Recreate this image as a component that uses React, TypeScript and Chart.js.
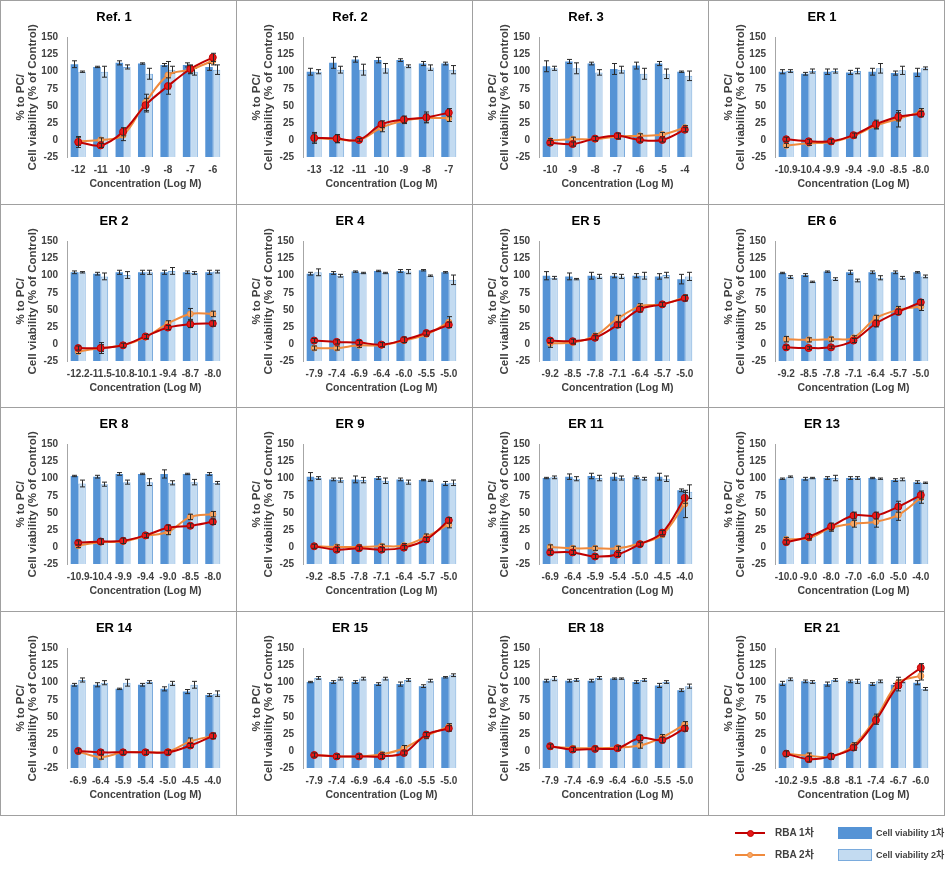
import React, { useEffect, useRef } from 'react';
import { Chart, registerables } from 'chart.js';

Chart.register(...registerables);

const FONT = "'Liberation Sans', Arial, 'Noto Sans CJK KR', sans-serif";

const panelTitles = ['Ref. 1', 'Ref. 2', 'Ref. 3', 'ER 1', 'ER 2', 'ER 4', 'ER 5', 'ER 6', 'ER 8', 'ER 9', 'ER 11', 'ER 13', 'ER 14', 'ER 15', 'ER 18', 'ER 21'];

const concentrationLabels = [
  ['-12', '-11', '-10', '-9', '-8', '-7', '-6'],
  ['-13', '-12', '-11', '-10', '-9', '-8', '-7'],
  ['-10', '-9', '-8', '-7', '-6', '-5', '-4'],
  ['-10.9', '-10.4', '-9.9', '-9.4', '-9.0', '-8.5', '-8.0'],
  ['-12.2', '-11.5', '-10.8', '-10.1', '-9.4', '-8.7', '-8.0'],
  ['-7.9', '-7.4', '-6.9', '-6.4', '-6.0', '-5.5', '-5.0'],
  ['-9.2', '-8.5', '-7.8', '-7.1', '-6.4', '-5.7', '-5.0'],
  ['-9.2', '-8.5', '-7.8', '-7.1', '-6.4', '-5.7', '-5.0'],
  ['-10.9', '-10.4', '-9.9', '-9.4', '-9.0', '-8.5', '-8.0'],
  ['-9.2', '-8.5', '-7.8', '-7.1', '-6.4', '-5.7', '-5.0'],
  ['-6.9', '-6.4', '-5.9', '-5.4', '-5.0', '-4.5', '-4.0'],
  ['-10.0', '-9.0', '-8.0', '-7.0', '-6.0', '-5.0', '-4.0'],
  ['-6.9', '-6.4', '-5.9', '-5.4', '-5.0', '-4.5', '-4.0'],
  ['-7.9', '-7.4', '-6.9', '-6.4', '-6.0', '-5.5', '-5.0'],
  ['-7.9', '-7.4', '-6.9', '-6.4', '-6.0', '-5.5', '-5.0'],
  ['-10.2', '-9.5', '-8.8', '-8.1', '-7.4', '-6.7', '-6.0'],
];

const yTickValues = [-25, 0, 25, 50, 75, 100, 125, 150];

// Cell viability 1차 (dark bars)
const viability1 = [
  [111, 107, 113, 112, 110, 110, 107],
  [100, 113, 118, 117, 117, 112, 112],
  [108, 115, 112, 104, 109, 112, 100],
  [100, 97, 100, 99, 100, 98, 99],
  [105, 103, 105, 105, 105, 105, 105],
  [103, 104, 106, 107, 107, 108, 105],
  [100, 99, 100, 100, 100, 99, 95],
  [104, 101, 106, 105, 105, 105, 105],
  [104, 103, 107, 107, 107, 107, 107],
  [103, 99, 99, 101, 99, 98, 93],
  [101, 103, 104, 103, 102, 103, 83],
  [100, 100, 101, 101, 101, 98, 95],
  [97, 97, 91, 97, 91, 87, 82],
  [101, 101, 101, 98, 98, 95, 108],
  [103, 103, 103, 106, 101, 96, 89],
  [99, 102, 98, 102, 98, 97, 100],
];

// Cell viability 2차 (light bars)
const viability2 = [
  [100, 100, 107, 97, 103, 100, 103],
  [100, 103, 103, 105, 108, 106, 103],
  [105, 105, 99, 103, 97, 97, 94],
  [101, 101, 101, 101, 105, 102, 105],
  [105, 99, 101, 105, 107, 104, 106],
  [105, 100, 104, 104, 106, 100, 94],
  [97, 95, 99, 99, 100, 101, 99],
  [98, 91, 95, 93, 97, 97, 99],
  [93, 92, 95, 95, 94, 95, 94],
  [101, 98, 98, 97, 95, 97, 94],
  [102, 100, 101, 101, 100, 100, 81],
  [103, 101, 101, 101, 100, 99, 94],
  [104, 100, 100, 101, 99, 97, 84],
  [107, 106, 106, 106, 104, 103, 111],
  [106, 104, 107, 106, 104, 101, 95],
  [105, 101, 104, 102, 102, 102, 91],
];

// RBA 1차 (red line)
const rba1 = [
  [-3, -8, 12, 51, 79, 104, 121],
  [3, 2, 0, 23, 30, 33, 40],
  [-4, -6, 2, 6, 0, 0, 15],
  [1, -2, -2, 7, 23, 34, 38],
  [-6, -6, -2, 11, 24, 29, 30],
  [5, 3, 2, -1, 6, 16, 28],
  [5, 4, 9, 28, 51, 58, 67],
  [-5, -6, -5, 5, 30, 47, 61],
  [6, 8, 9, 17, 28, 31, 37],
  [1, -4, -2, -4, -1, 11, 39],
  [-8, -8, -14, -11, 4, 21, 72],
  [7, 15, 30, 46, 46, 59, 76],
  [0, -2, -2, -2, -2, 8, 22],
  [-6, -8, -8, -8, -3, 24, 33],
  [7, 2, 3, 4, 19, 16, 33],
  [-4, -12, -8, 5, 45, 96, 122],
];

// RBA 2차 (orange line)
const rba2 = [
  [-2, 0, 7, 55, 95, 103, 116],
  [3, 1, 0, 18, 28, 32, 32],
  [-1, 1, 1, 5, 6, 8, 18],
  [-8, -5, -3, 6, 21, 31, 41],
  [-11, -6, -2, 10, 30, 44, 44],
  [-6, -6, -2, -2, 5, 14, 32],
  [1, 2, 12, 37, 55, 58, 68],
  [7, 6, 7, 9, 38, 50, 55],
  [2, 7, 8, 16, 22, 44, 48],
  [1, 0, 0, 1, 2, 15, 33],
  [0, -2, -2, -2, 5, 18, 63],
  [11, 13, 28, 34, 37, 47, 72],
  [-1, -9, -2, -2, -1, 14, 22],
  [-6, -8, -8, -5, 4, 22, 36],
  [6, 4, 4, 5, 8, 20, 39],
  [-4, -7, -8, 8, 48, 100, 110],
];

const viability1Err = [
  [5, 1, 3, 1, 2, 3, 5], [5, 8, 4, 4, 2, 3, 2], [8, 3, 2, 8, 5, 3, 1], [3, 2, 4, 3, 5, 3, 6],
  [2, 2, 3, 3, 3, 2, 3], [2, 2, 1, 1, 2, 1, 1], [6, 5, 5, 3, 3, 4, 7], [1, 2, 1, 3, 2, 2, 1],
  [1, 2, 2, 1, 6, 1, 2], [6, 2, 5, 2, 2, 1, 3], [1, 4, 4, 5, 2, 5, 2], [1, 2, 2, 2, 1, 2, 2],
  [2, 3, 1, 2, 3, 3, 2], [1, 2, 2, 2, 3, 2, 1], [2, 2, 2, 1, 2, 3, 2], [3, 2, 3, 2, 2, 2, 3],
];

const viability2Err = [
  [1, 8, 3, 8, 5, 5, 7], [3, 5, 8, 7, 2, 4, 6], [3, 8, 4, 5, 8, 7, 7], [2, 3, 3, 4, 7, 6, 2],
  [1, 5, 5, 3, 5, 2, 2], [5, 2, 1, 1, 3, 1, 7], [2, 1, 3, 3, 5, 4, 6], [2, 1, 2, 2, 3, 2, 2],
  [5, 3, 3, 5, 3, 4, 2], [2, 3, 4, 4, 3, 1, 4], [2, 3, 4, 3, 2, 4, 10], [1, 1, 4, 2, 1, 2, 1],
  [3, 3, 5, 2, 3, 5, 4], [2, 2, 2, 2, 2, 2, 2], [3, 2, 2, 1, 2, 2, 3], [2, 2, 2, 3, 2, 2, 2],
];

const rba1Err = [
  [8, 3, 6, 10, 12, 6, 6], [8, 6, 2, 5, 5, 8, 6], [3, 3, 3, 4, 3, 3, 3], [3, 3, 3, 3, 6, 6, 4],
  [3, 8, 3, 3, 3, 5, 4], [3, 3, 3, 3, 4, 3, 4], [3, 3, 3, 4, 4, 3, 4], [3, 2, 2, 3, 5, 4, 4],
  [3, 4, 4, 3, 4, 3, 4], [3, 3, 3, 3, 3, 3, 4], [3, 3, 3, 3, 3, 3, 8], [3, 3, 5, 5, 5, 8, 6],
  [3, 3, 3, 3, 3, 3, 4], [3, 3, 3, 3, 3, 3, 4], [3, 3, 3, 3, 4, 4, 4], [4, 4, 4, 4, 6, 8, 6],
];

const rba2Err = [
  [6, 3, 8, 12, 20, 6, 6], [6, 5, 3, 6, 4, 6, 5], [3, 3, 3, 4, 3, 3, 3], [3, 3, 3, 3, 5, 12, 5],
  [3, 5, 3, 3, 4, 8, 4], [3, 3, 3, 3, 3, 3, 8], [6, 3, 3, 5, 4, 3, 4], [4, 3, 3, 3, 4, 5, 6],
  [3, 3, 3, 3, 4, 4, 4], [3, 3, 3, 3, 3, 4, 5], [3, 3, 3, 3, 3, 3, 20], [3, 3, 5, 5, 8, 8, 8],
  [3, 3, 3, 3, 3, 5, 4], [3, 3, 3, 3, 4, 4, 4], [3, 3, 3, 3, 4, 4, 4], [4, 4, 4, 4, 6, 8, 6],
];

const seriesNames = ['RBA 1차', 'RBA 2차', 'Cell viability 1차', 'Cell viability 2차'];

const COLORS = {
  red: '#C00000',
  redMarker: '#E41A1A',
  orange: '#F08A3C',
  orangeMarker: '#F6A868',
  dark: '#5593D5',
  light: '#C3DBF1',
  lightBorder: '#7AABDD',
  text: '#404040',
  border: '#A0A0A0',
};

const COL_X = [0, 236, 472, 708];
const ROW_Y = [0, 204, 407, 611];
const PANEL_H = 204;
const CANVAS_OFFSET = 4;
const CANVAS_W = 248;

const errorBarPlugin = {
  id: 'errorBars',
  afterDatasetDraw(chart: any, args: any) {
    const ds: any = chart.data.datasets[args.index];
    const errs: number[] | undefined = ds.errors;
    if (!errs) return;
    const y = chart.scales.y;
    const ctx = chart.ctx;
    ctx.save();
    ctx.strokeStyle = '#2a2a2a';
    ctx.lineWidth = 1;
    args.meta.data.forEach((el: any, i: number) => {
      const v = ds.data[i];
      const e = errs[i];
      if (v == null || !e) return;
      const x = Math.round(el.x) + 0.5;
      const yt = y.getPixelForValue(v + e);
      const yb = y.getPixelForValue(v - e);
      const cap = 2.5;
      ctx.beginPath();
      ctx.moveTo(x, yt);
      ctx.lineTo(x, yb);
      ctx.moveTo(x - cap, yt);
      ctx.lineTo(x + cap, yt);
      ctx.moveTo(x - cap, yb);
      ctx.lineTo(x + cap, yb);
      ctx.stroke();
    });
    ctx.restore();
  },
};

function Panel({ index }: { index: number }) {
  const ref = useRef<HTMLCanvasElement | null>(null);
  useEffect(() => {
    const canvas = ref.current;
    if (!canvas) return;
    const tickFont = { family: FONT, size: 10, weight: 'bold' as const };
    const chart = new Chart(canvas, {
      type: 'bar',
      data: {
        labels: concentrationLabels[index],
        datasets: [
          {
            type: 'line',
            label: seriesNames[0],
            data: rba1[index],
            errors: rba1Err[index],
            borderColor: COLORS.red,
            backgroundColor: COLORS.redMarker,
            pointBackgroundColor: COLORS.redMarker,
            pointBorderColor: COLORS.red,
            pointBorderWidth: 1,
            pointRadius: 3.5,
            borderWidth: 2,
            tension: 0.35,
            order: 0,
          } as any,
          {
            type: 'line',
            label: seriesNames[1],
            data: rba2[index],
            errors: rba2Err[index],
            borderColor: COLORS.orange,
            backgroundColor: COLORS.orangeMarker,
            pointBackgroundColor: COLORS.orangeMarker,
            pointBorderColor: COLORS.orange,
            pointBorderWidth: 1,
            pointRadius: 3,
            borderWidth: 2,
            tension: 0.35,
            order: 1,
          } as any,
          {
            type: 'bar',
            label: seriesNames[2],
            data: viability1[index],
            errors: viability1Err[index],
            backgroundColor: COLORS.dark,
            base: -25,
            categoryPercentage: 0.67,
            barPercentage: 1.0,
            order: 2,
          } as any,
          {
            type: 'bar',
            label: seriesNames[3],
            data: viability2[index],
            errors: viability2Err[index],
            backgroundColor: COLORS.light,
            borderColor: COLORS.lightBorder,
            borderWidth: 1,
            base: -25,
            categoryPercentage: 0.67,
            barPercentage: 1.0,
            order: 2,
          } as any,
        ],
      },
      options: {
        responsive: false,
        animation: false,
        layout: { padding: { left: 0, right: 28, top: 0, bottom: 0 } },
        plugins: {
          legend: { display: false },
          tooltip: { enabled: false },
          title: {
            display: true,
            text: panelTitles[index],
            color: '#000000',
            font: { family: FONT, size: 13, weight: 'bold' },
            padding: { top: 10, bottom: 12 },
          },
        },
        scales: {
          x: {
            grid: { display: false, drawTicks: false },
            border: { display: false },
            ticks: {
              autoSkip: false,
              maxRotation: 0,
              minRotation: 0,
              padding: 7,
              color: COLORS.text,
              font: tickFont,
            },
            title: {
              display: true,
              text: 'Concentration (Log M)',
              color: COLORS.text,
              font: { family: FONT, size: 10.5, weight: 'bold' },
              padding: { top: 0, bottom: 14 },
            },
            afterFit: (s: any) => {
              s.height = 47;
            },
          },
          y: {
            min: -25,
            max: 150,
            afterBuildTicks: (s: any) => {
              s.ticks = yTickValues.map((v) => ({ value: v }));
            },
            grid: { display: false, drawTicks: false },
            border: { display: true, color: '#A6A6A6', width: 1 },
            ticks: {
              padding: 9,
              color: COLORS.text,
              font: tickFont,
            },
            title: {
              display: true,
              text: ['% to PC/', 'Cell viability (% of Control)'],
              color: COLORS.text,
              font: { family: FONT, size: 11.5, weight: 'bold', lineHeight: 1.05 },
              padding: { top: 11, bottom: 0 },
            },
            afterFit: (s: any) => {
              s.width = 63;
            },
          },
        },
      },
      plugins: [errorBarPlugin],
    } as any);
    return () => chart.destroy();
  }, [index]);

  const col = index % 4;
  const row = Math.floor(index / 4);
  return (
    <canvas
      ref={ref}
      width={CANVAS_W}
      height={PANEL_H}
      style={{
        position: 'absolute',
        left: COL_X[col] + CANVAS_OFFSET,
        top: ROW_Y[row],
        width: CANVAS_W,
        height: PANEL_H,
      }}
    />
  );
}

function LegendItem({ kind, x, y, label, fontSize }: { kind: string; x: number; y: number; label: string; fontSize: number }) {
  const isLine = kind === 'red' || kind === 'orange';
  const textStyle: React.CSSProperties = {
    position: 'absolute',
    top: y - 7,
    height: 14,
    lineHeight: '14px',
    fontFamily: FONT,
    fontWeight: 'bold',
    fontSize,
    color: COLORS.text,
    whiteSpace: 'nowrap',
  };
  if (isLine) {
    const c = kind === 'red' ? COLORS.red : COLORS.orange;
    const m = kind === 'red' ? COLORS.redMarker : COLORS.orangeMarker;
    const r = kind === 'red' ? 7 : 6;
    return (
      <>
        <div style={{ position: 'absolute', left: x, top: y - 1, width: 30, height: 2, background: c }} />
        <div
          style={{
            position: 'absolute',
            left: x + 15 - r / 2,
            top: y - r / 2,
            width: r,
            height: r,
            borderRadius: '50%',
            background: m,
            boxSizing: 'border-box',
            border: `1px solid ${c}`,
          }}
        />
        <div style={{ ...textStyle, left: x + 40 }}>{label}</div>
      </>
    );
  }
  const fill = kind === 'dark' ? COLORS.dark : COLORS.light;
  return (
    <>
      <div
        style={{
          position: 'absolute',
          left: x,
          top: y - 6,
          width: 34,
          height: 12,
          background: fill,
          boxSizing: 'border-box',
          border: kind === 'light' ? `1px solid ${COLORS.lightBorder}` : 'none',
        }}
      />
      <div style={{ ...textStyle, left: x + 38 }}>{label}</div>
    </>
  );
}

export default function App() {
  const lines: React.ReactNode[] = [];
  const bottom = ROW_Y[3] + PANEL_H;
  [0, 236, 472, 708, 944].forEach((x, i) => {
    lines.push(
      <div key={'v' + i} style={{ position: 'absolute', left: x, top: 0, width: 1, height: bottom, background: COLORS.border }} />
    );
  });
  [0, ...ROW_Y.slice(1), bottom].forEach((y, i) => {
    lines.push(
      <div key={'h' + i} style={{ position: 'absolute', left: 0, top: y, width: 945, height: 1, background: COLORS.border }} />
    );
  });
  return (
    <div
      style={{
        position: 'absolute',
        left: 0,
        top: 0,
        width: 945,
        height: 869,
        overflow: 'hidden',
        background: '#ffffff',
      }}
    >
      {lines}
      {panelTitles.map((_, i) => (
        <Panel key={i} index={i} />
      ))}
      <LegendItem kind="red" x={735} y={833} label={seriesNames[0]} fontSize={10} />
      <LegendItem kind="orange" x={735} y={855} label={seriesNames[1]} fontSize={10} />
      <LegendItem kind="dark" x={838} y={833} label={seriesNames[2]} fontSize={9} />
      <LegendItem kind="light" x={838} y={855} label={seriesNames[3]} fontSize={9} />
    </div>
  );
}
